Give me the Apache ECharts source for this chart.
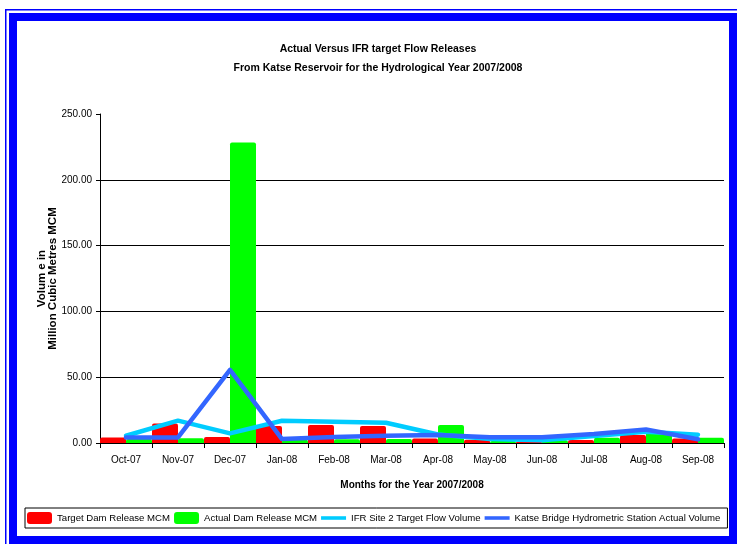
<!DOCTYPE html>
<html>
<head>
<meta charset="utf-8">
<title>Actual Versus IFR target Flow Releases</title>
<script src="https://cdn.jsdelivr.net/npm/echarts@6/dist/echarts.min.js"></script>
<style>
  html, body { margin: 0; padding: 0; background: #ffffff; }
  #chart { width: 737px; height: 544px; }
</style>
</head>
<body>
<div id="chart"></div>
<script>
// Monthly release volumes, million cubic metres, hydrological year 2007/2008
const months = ['Oct-07', 'Nov-07', 'Dec-07', 'Jan-08', 'Feb-08', 'Mar-08',
                'Apr-08', 'May-08', 'Jun-08', 'Jul-08', 'Aug-08', 'Sep-08'];
const targetDamRelease = [4.1, 14.8, 4.6, 12.9, 13.7, 12.9, 3.5, 2.5, 1.0, 2.3, 6.0, 3.5];
const actualDamRelease = [3.0, 3.7, 228.3, 2.5, 2.8, 3.0, 13.7, 1.5, 2.0, 4.0, 8.5, 4.0];
const ifrSite2Target = [5.5, 17.0, 7.3, 16.9, 16.2, 15.4, 6.5, 3.0, 2.0, 5.3, 8.6, 6.3];
const katseBridgeActual = [4.2, 4.2, 55.5, 3.0, 4.5, 5.5, 6.0, 4.3, 4.3, 6.8, 10.2, 2.8];

const seriesNames = ['Target Dam Release MCM', 'Actual Dam Release MCM',
                     'IFR Site 2 Target Flow Volume', 'Katse Bridge Hydrometric Station Actual Volume'];
const titleLines = ['Actual Versus IFR target Flow Releases',
                    'From Katse Reservoir for the Hydrological Year 2007/2008'];
const yAxisTitle = 'Volum e in\nMillion Cubic Metres MCM';
const xAxisTitle = 'Months for the Year 2007/2008';

const FONT = "'Liberation Sans', Arial, sans-serif";
const RED = '#FF0000', GREEN = '#00FF00', CYAN = '#00CCFF', BLUE = '#3366FF';
const LINE_ICON = 'path://M0,0h28v4h-28z';

const chart = echarts.init(document.getElementById('chart'), null, { renderer: 'canvas' });

chart.setOption({
  backgroundColor: '#ffffff',
  animation: false,
  textStyle: { fontFamily: FONT, color: '#000' },
  graphic: [
    // blue double frame around the sheet
    { type: 'rect', z: 100, silent: true,
      shape: { x: 5.75, y: 9.75, width: 800, height: 600 },
      style: { fill: 'none', stroke: '#0000FF', lineWidth: 1.5 } },
    { type: 'rect', z: 100, silent: true,
      shape: { x: 13, y: 17, width: 720, height: 523 },
      style: { fill: 'none', stroke: '#0000FF', lineWidth: 8 } }
  ],
  title: {
    text: titleLines.join('\n'),
    left: 373,
    top: 35,
    textAlign: 'center',
    textStyle: { fontFamily: FONT, fontSize: 10.5, fontWeight: 'bold', color: '#000', lineHeight: 19 }
  },
  legend: {
    left: 25,
    top: 508,
    orient: 'horizontal',
    padding: [4, 7, 4, 2],
    itemGap: 4,
    itemWidth: 25,
    itemHeight: 12,
    borderColor: '#000',
    borderWidth: 1,
    backgroundColor: '#fff',
    textStyle: { fontFamily: FONT, fontSize: 9.6, color: '#000' },
    data: [
      { name: seriesNames[0], icon: 'roundRect' },
      { name: seriesNames[1], icon: 'roundRect' },
      { name: seriesNames[2], icon: LINE_ICON },
      { name: seriesNames[3], icon: LINE_ICON }
    ]
  },
  grid: { left: 100, right: 13, top: 114, bottom: 101, containLabel: false },
  xAxis: {
    type: 'category',
    data: months,
    boundaryGap: true,
    axisLine: { lineStyle: { color: '#000', width: 1 } },
    axisTick: { show: true, length: 5, lineStyle: { color: '#000' } },
    axisLabel: { interval: 0, margin: 12, color: '#000', fontFamily: FONT, fontSize: 10 },
    splitLine: { show: false },
    name: xAxisTitle,
    nameLocation: 'middle',
    nameGap: 37,
    nameMoveOverlap: false,
    nameTextStyle: { fontFamily: FONT, fontSize: 10, fontWeight: 'bold', color: '#000' }
  },
  yAxis: {
    type: 'value',
    min: 0,
    max: 250,
    interval: 50,
    axisLine: { show: true, lineStyle: { color: '#000', width: 1 } },
    axisTick: { show: true, length: 4, lineStyle: { color: '#000' } },
    axisLabel: { margin: 8, color: '#000', fontFamily: FONT, fontSize: 10,
                 formatter: v => v.toFixed(2) },
    splitLine: { show: true, showMaxLine: false, lineStyle: { color: '#000', width: 1 } },
    name: yAxisTitle,
    nameLocation: 'middle',
    nameGap: 42,
    nameMoveOverlap: false,
    nameTextStyle: { fontFamily: FONT, fontSize: 11.5, fontWeight: 'bold', color: '#000',
                     lineHeight: 10.5, align: 'center' }
  },
  series: [
    { name: seriesNames[0], type: 'bar', data: targetDamRelease,
      barGap: '0%', barCategoryGap: '0%',
      itemStyle: { color: RED, borderRadius: [2, 2, 0, 0] } },
    { name: seriesNames[1], type: 'bar', data: actualDamRelease,
      barGap: '0%', barCategoryGap: '0%',
      itemStyle: { color: GREEN, borderRadius: [2, 2, 0, 0] } },
    { name: seriesNames[2], type: 'line', data: ifrSite2Target,
      symbol: 'none', itemStyle: { color: CYAN },
      lineStyle: { color: CYAN, width: 4.5, cap: 'round', join: 'round' } },
    { name: seriesNames[3], type: 'line', data: katseBridgeActual,
      symbol: 'none', itemStyle: { color: BLUE },
      lineStyle: { color: BLUE, width: 4.5, cap: 'round', join: 'round' } }
  ]
});
</script>
</body>
</html>
